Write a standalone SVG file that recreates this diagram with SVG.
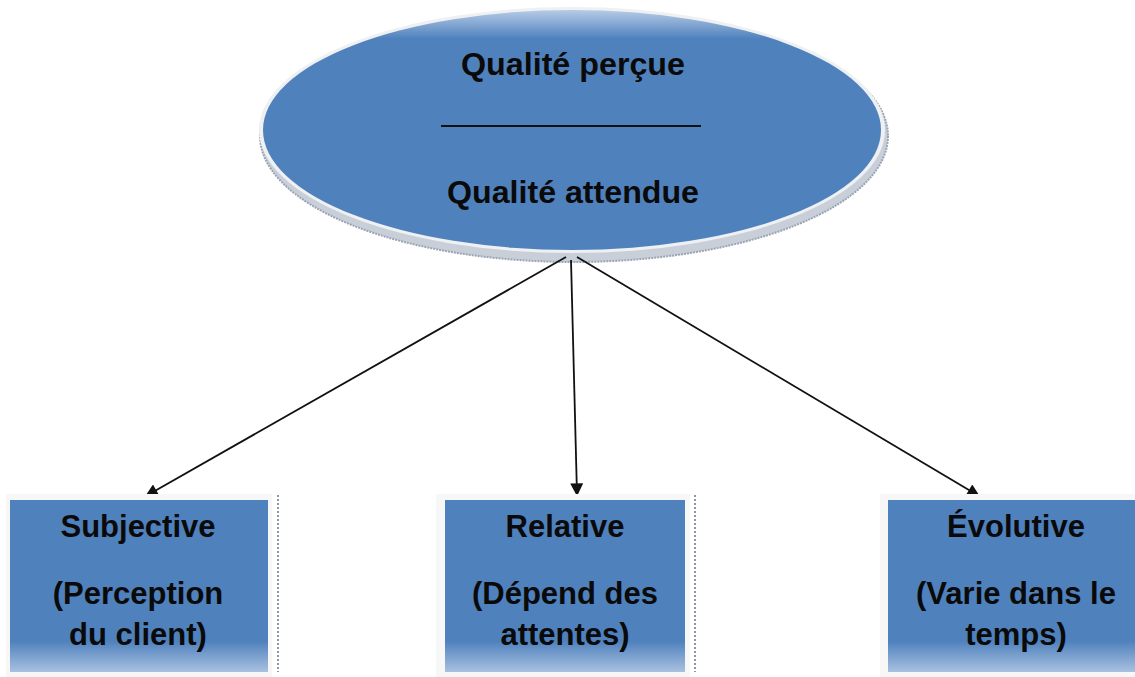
<svg xmlns="http://www.w3.org/2000/svg" width="1135" height="677" viewBox="0 0 1135 677">
<defs>
<style>
.t{font-family:"Liberation Sans",Arial,sans-serif;font-weight:bold;font-size:31px;fill:#0a0a0a;text-anchor:middle}
.c{stroke:#111;stroke-width:1.8;fill:none;marker-end:url(#ah)}
.box{fill:url(#bg)}
.frame{fill:#f7f7f7}
.dot{stroke:#8a96a8;stroke-width:2;stroke-dasharray:2 2}
</style>
<marker id="ah" viewBox="0 0 10 10" refX="9" refY="5" markerWidth="15" markerHeight="13" orient="auto" markerUnits="userSpaceOnUse">
<path d="M0,0 L10,5 L0,10 z" fill="#111"/>
</marker>
<linearGradient id="bg" x1="0" y1="0" x2="0" y2="1">
<stop offset="0" stop-color="#4f81bd"/>
<stop offset="0.82" stop-color="#4f81bd"/>
<stop offset="1" stop-color="#a9c1e0"/>
</linearGradient>
<linearGradient id="eg" x1="0" y1="0" x2="0" y2="1">
<stop offset="0" stop-color="#b7cbe6"/>
<stop offset="0.12" stop-color="#4f81bd"/>
<stop offset="1" stop-color="#4f81bd"/>
</linearGradient>
</defs>
<rect width="1135" height="677" fill="#ffffff"/>
<g id="ellipse">
<ellipse cx="574" cy="136" rx="314" ry="126" fill="#c8cfd8" stroke="#9aa4b4" stroke-width="2" stroke-dasharray="2 1"/>
<ellipse cx="572" cy="130" rx="313" ry="123" fill="#eef0f2"/>
<ellipse cx="572" cy="130" rx="309" ry="120" fill="url(#eg)"/>
<text class="t" x="573" y="75" textLength="224" lengthAdjust="spacingAndGlyphs">Qualité perçue</text>
<line x1="441" y1="126" x2="701" y2="126" stroke="#111" stroke-width="1.8"/>
<text class="t" x="573" y="203" textLength="252" lengthAdjust="spacingAndGlyphs">Qualité attendue</text>
</g>
<g id="connectors">
<line class="c" x1="566" y1="257" x2="146" y2="496"/>
<line class="c" x1="571" y1="260" x2="577" y2="495"/>
<line class="c" x1="577" y1="257" x2="979" y2="496"/>
</g>
<g id="box1">
<rect class="frame" x="6" y="494" width="266" height="183"/>
<rect class="box" x="10" y="500" width="258" height="172"/>
<line class="dot" x1="278" y1="495" x2="278" y2="672"/>
<text class="t" x="138" y="537">Subjective</text>
<text class="t" x="138" y="604">(Perception</text>
<text class="t" x="138" y="645">du client)</text>
</g>
<g id="box2">
<rect class="frame" x="436" y="494" width="254" height="183"/>
<rect class="box" x="445" y="500" width="240" height="172"/>
<line class="dot" x1="695" y1="495" x2="695" y2="672"/>
<text class="t" x="565" y="537">Relative</text>
<text class="t" x="565" y="604">(Dépend des</text>
<text class="t" x="565" y="645">attentes)</text>
</g>
<g id="box3">
<rect class="frame" x="880" y="494" width="255" height="183"/>
<rect class="box" x="888" y="500" width="247" height="172"/>
<text class="t" x="1016" y="537">Évolutive</text>
<text class="t" x="1016" y="604">(Varie dans le</text>
<text class="t" x="1016" y="645">temps)</text>
</g>
</svg>
